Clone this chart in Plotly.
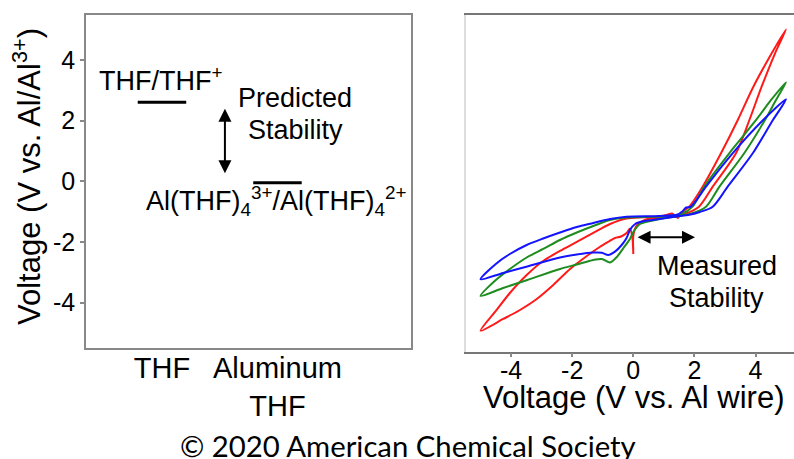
import plotly.graph_objects as go

FONT = "Liberation Sans, Arial, Helvetica, sans-serif"

# ---- left panel: predicted redox levels (V vs. Al/Al3+) ----
species = ["THF", "Aluminum<br>THF"]
species_x = [0, 1]
level_v = [2.6, -0.05]
level_halfwidth = 0.21
left_ticks = [-4, -2, 0, 2, 4]
left_ticktext = ["-4", "-2", "0", "2", "4"]

# ---- right panel: cyclic voltammograms (V vs. Al wire, current in arb. units) ----
right_ticks = [-4, -2, 0, 2, 4]
right_ticktext = ["-4", "-2", "0", "2", "4"]

red_v = [0.0, 0.0, 0.1, 0.38, 0.87, 1.27,
         1.69, 2.15, 2.60, 3.36, 3.80, 4.20, 4.64, 5.0,
         4.53, 3.93, 3.42, 2.87, 2.27, 1.83, 1.53,
         1.46, 1.27, 1.14, 0.87, 0.32, -0.22, -0.76, -1.31, -1.85, -2.40, -2.95, -3.49, -4.04, -4.50, -5.0,
         -4.26, -3.71, -3.16, -2.62, -2.07, -1.52, -1.10, -0.80, -0.60, -0.40, -0.22, -0.11, -0.03, 0.0]
red_i = [-34, -20, -10, -4, -2, -1,
         2, 9.3, 29.3, 62.7, 96, 129.3, 162.7, 186.7,
         162.7, 129.3, 96, 62.7, 29.3, 9.3, 2,
         -2, 2.5, 1.5, -0.5, -1.3, -2.5, -8, -17, -26, -35, -45, -59, -77, -95, -114.7,
         -103, -94, -83, -69, -53, -40, -31, -25.5, -22, -20.5, -17, -12.5, -22, -38]

green_v = [-5.0, -4.26, -3.47, -2.40, -1.85, -1.31, -1.03, -0.76, -0.54, -0.33, -0.11, 0.0, 0.22, 0.87, 1.53,
           1.86, 2.38, 2.82, 3.63, 4.31, 4.67, 5.0,
           4.51, 4.02, 3.14, 2.32, 1.94, 1.59,
           0.87, -0.22, -0.76, -1.31, -1.85, -2.40, -2.95, -3.49, -4.04, -4.50, -5.0]
green_i = [-80, -72, -64, -53, -48.5, -44, -43, -46.5, -41, -32.3, -23, -16, -8, -3, 0,
           2, 9.3, 29.3, 62.7, 96, 116, 133.7,
           116, 96, 62.7, 29.3, 9.3, 2,
           -0.5, -1.5, -4, -10, -16.5, -24, -33, -41.5, -53, -64, -80]

blue_v = [-5.0, -4.26, -3.47, -2.40, -1.85, -1.31, -1.03, -0.82, -0.60, -0.38, -0.22, -0.11, 0.06, 0.38, 0.87, 1.53,
          1.79, 2.18, 2.60, 3.09, 3.91, 4.57, 5.0,
          4.25, 3.25, 2.38, 2.02, 1.86, 1.73, 1.62, 1.45,
          0.87, -0.22, -0.76, -1.31, -1.85, -2.40, -2.95, -3.49, -4.04, -4.50, -5.0]
blue_i = [-63.3, -57, -50.5, -41.5, -38.5, -36.5, -36.7, -39, -35.7, -29, -22, -14, -8, -5, -3, 0,
          1, 4, 9.3, 29.3, 62.7, 96, 116.7,
          96, 62.7, 29.3, 14, 9, 8.5, 5, 1.5,
          0, -0.7, -3, -7, -11, -16.5, -22.5, -29, -38, -48, -63.3]

cv_traces = [
    (red_v, red_i, "#ff1a1a"),
    (green_v, green_i, "#1e8c1e"),
    (blue_v, blue_i, "#1414ff"),
]

fig = go.Figure()

# energy level bars
for sx, lv in zip(species_x, level_v):
    fig.add_trace(go.Scatter(
        x=[sx - level_halfwidth, sx + level_halfwidth], y=[lv, lv],
        mode="lines", line=dict(color="black", width=3),
        xaxis="x", yaxis="y", showlegend=False, hoverinfo="skip"))

for v, i, c in cv_traces:
    fig.add_trace(go.Scatter(
        x=v, y=i, mode="lines",
        line=dict(color=c, width=2, shape="spline", smoothing=0.8),
        xaxis="x2", yaxis="y2", showlegend=False, hoverinfo="skip"))

txt = dict(family=FONT, size=27, color="black")
title_font = dict(family=FONT, size=31, color="black")

annotations = [
    # left panel labels
    dict(x=-0.56, y=3.36, xref="x", yref="y", text="THF/THF<sup>+</sup>",
         showarrow=False, xanchor="left", yanchor="middle", font=txt),
    dict(x=1.152, y=2.74, xref="x", yref="y", text="Predicted",
         showarrow=False, xanchor="center", yanchor="middle", font=txt),
    dict(x=1.152, y=1.68, xref="x", yref="y", text="Stability",
         showarrow=False, xanchor="center", yanchor="middle", font=txt),
    dict(x=-0.155, y=-0.66, xref="x", yref="y",
         text="Al(THF)<sub>4</sub><sup>3+</sup>/Al(THF)<sub>4</sub><sup>2+</sup>",
         showarrow=False, xanchor="left", yanchor="middle", font=txt),
    dict(x=0.545, y=0.26, ax=0.545, ay=2.44, xref="x", yref="y", axref="x", ayref="y",
         text="", showarrow=True, arrowside="end+start", arrowhead=2,
         arrowsize=1.3, arrowwidth=2, arrowcolor="black"),
    # right panel labels
    dict(x=2.02, y=-21.3, ax=0.09, ay=-21.3, xref="x2", yref="y2", axref="x2", ayref="y2",
         text="", showarrow=True, arrowside="end+start", arrowhead=2,
         arrowsize=1.3, arrowwidth=2, arrowcolor="black"),
    dict(x=2.73, y=-50, xref="x2", yref="y2", text="Measured",
         showarrow=False, xanchor="center", yanchor="middle", font=txt),
    dict(x=2.73, y=-82.3, xref="x2", yref="y2", text="Stability",
         showarrow=False, xanchor="center", yanchor="middle", font=txt),
    # axis titles
    dict(x=0.034, y=0.6166, xref="paper", yref="paper",
         text="Voltage (V vs. Al/Al<sup>3+</sup>)", textangle=-90,
         showarrow=False, xanchor="center", yanchor="middle", font=title_font),
    dict(x=0.7985, y=0.1329, xref="paper", yref="paper",
         text="Voltage (V vs. Al wire)",
         showarrow=False, xanchor="center", yanchor="middle", font=title_font),
    # credit line
    dict(x=0.514, y=0.03, xref="paper", yref="paper",
         text="© 2020 American Chemical Society",
         showarrow=False, xanchor="center", yanchor="middle",
         font=dict(family="Lato, Noto Sans, sans-serif", size=29.3, color="black")),
]

fig.update_layout(
    width=794, height=459,
    margin=dict(l=0, r=0, t=0, b=0),
    paper_bgcolor="white", plot_bgcolor="white",
    font=dict(family=FONT, color="black"),
    annotations=annotations,
    xaxis=dict(domain=[0.1083, 0.5176], range=[-0.658, 2.156],
               tickvals=species_x, ticktext=species, ticks="",
               ticklabelstandoff=-6,
               tickfont=dict(family=FONT, size=29, color="black"),
               showline=True, mirror=True, linecolor="#888888", linewidth=1.5,
               showgrid=False, zeroline=False, anchor="y"),
    yaxis=dict(domain=[0.2425, 0.968], range=[-5.49, 5.49],
               tickvals=left_ticks, ticktext=left_ticktext,
               ticks="outside", ticklen=4,
               tickcolor="#888888", tickwidth=1.5,
               tickfont=dict(family=FONT, size=25, color="black"),
               showline=True, mirror=True, linecolor="#888888", linewidth=1.5,
               showgrid=False, zeroline=False, anchor="x"),
    xaxis2=dict(domain=[0.5869, 1.0], range=[-5.476, 5.26],
                tickvals=right_ticks, ticktext=right_ticktext,
                ticks="outside", ticklen=4,
                tickcolor="#888888", tickwidth=1.5, ticklabelstandoff=-8,
                tickfont=dict(family=FONT, size=25, color="black"),
                showline=True, mirror=True, linecolor="#777777", linewidth=1.5,
                showgrid=False, zeroline=False, anchor="y2"),
    yaxis2=dict(domain=[0.2338, 0.968], range=[-135.7, 201.3],
                showticklabels=False, ticks="",
                showline=True, linecolor="#dddddd", linewidth=1.5,
                showgrid=False, zeroline=False, anchor="x2"),
)

fig.write_html("out.html", config={"displayModeBar": False})
